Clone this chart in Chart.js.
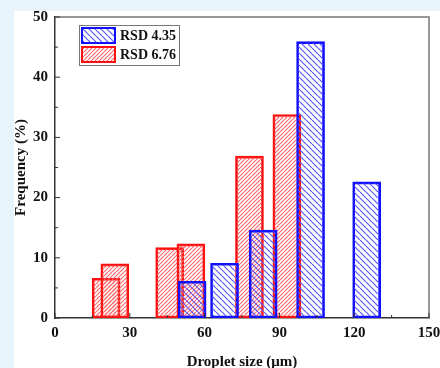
<!DOCTYPE html>
<html>
<head>
<meta charset="utf-8">
<script src="https://cdn.jsdelivr.net/npm/chart.js@4/dist/chart.umd.min.js"></script>
<style>
  html, body { margin: 0; padding: 0; background: #e8f4fc; }
  #wrap { width: 440px; height: 368px; position: relative; }
</style>
</head>
<body>
<div id="wrap"><canvas id="chart" width="440" height="368"></canvas></div>
<script>
// droplet size bins (bar centres, um) and frequencies (%)
var rsd435Sizes = [55, 68, 83.5, 102.5, 125];
var rsd435Freq  = [6.1, 9.1, 14.6, 45.9, 22.6];
var rsd676Sizes = [20.5, 24, 46, 54.5, 78, 93];
var rsd676Freq  = [6.6, 9.0, 11.7, 12.3, 26.9, 33.8];
var xTicks = [0, 30, 60, 90, 120, 150];
var yTicks = [0, 10, 20, 30, 40, 50];
var seriesNames = ['RSD 4.35', 'RSD 6.76'];

var FONT = '"Liberation Serif", "Times New Roman", serif';

function makeHatch(color, size, back) {
  var c = document.createElement('canvas');
  c.width = size; c.height = size;
  var g = c.getContext('2d');
  g.strokeStyle = color;
  g.lineWidth = 1.2;
  for (var k = -size; k <= size; k += size) {
    g.beginPath();
    if (back) { g.moveTo(k, 0); g.lineTo(k + size, size); }
    else { g.moveTo(k, size); g.lineTo(k + size, 0); }
    g.stroke();
  }
  return document.getElementById('chart').getContext('2d').createPattern(c, 'repeat');
}

var bluePat = makeHatch('#5a5aff', 6, true);
var redPat = makeHatch('#ff6a6a', 4, false);

function toPoints(xs, ys) {
  return xs.map(function (x, i) { return {x: x, y: ys[i]}; });
}

var backdrop = {
  id: 'backdrop',
  beforeDraw: function (chart) {
    var ctx = chart.ctx;
    ctx.save();
    ctx.fillStyle = '#e8f4fc';
    ctx.fillRect(0, 0, chart.width, chart.height);
    ctx.fillStyle = '#ffffff';
    ctx.fillRect(14, 11, chart.width - 14, chart.height - 11);
    ctx.restore();
  }
};

// inward ticks, frame and the boxed legend
var decorations = {
  id: 'decorations',
  afterDraw: function (chart) {
    var ctx = chart.ctx, a = chart.chartArea;
    var xs = chart.scales.x, ys = chart.scales.y;
    ctx.save();
    ctx.strokeStyle = '#777';
    ctx.lineWidth = 1.5;
    ctx.beginPath();
    ctx.moveTo(a.left, a.top); ctx.lineTo(a.right, a.top); ctx.lineTo(a.right, a.bottom);
    ctx.stroke();

    ctx.strokeStyle = '#333';
    ctx.lineWidth = 1;
    ctx.beginPath();
    for (var v = 0; v <= 150; v += 15) {
      var px = xs.getPixelForValue(v);
      var len = (v % 30 === 0) ? 5 : 3;
      ctx.moveTo(px, a.bottom); ctx.lineTo(px, a.bottom - len);
    }
    for (var w = 0; w <= 50; w += 5) {
      var py = ys.getPixelForValue(w);
      var l2 = (w % 10 === 0) ? 5 : 3;
      ctx.moveTo(a.left, py); ctx.lineTo(a.left + l2, py);
    }
    ctx.stroke();

    // legend
    var lx = 79, ly = 25;
    ctx.fillStyle = '#ffffff';
    ctx.fillRect(lx, ly, 100, 40);
    ctx.strokeStyle = '#777';
    ctx.lineWidth = 1;
    ctx.strokeRect(lx + 0.5, ly + 0.5, 100, 40);
    var sets = chart.data.datasets;
    for (var i = 0; i < sets.length; i++) {
      var sy = ly + 2 + i * 19;
      ctx.fillStyle = sets[i].backgroundColor;
      ctx.fillRect(lx + 2, sy, 35, 17);
      ctx.strokeStyle = sets[i].borderColor;
      ctx.lineWidth = 2;
      ctx.strokeRect(lx + 3, sy + 1, 33, 15);
      ctx.fillStyle = '#111';
      ctx.font = 'bold 14px ' + FONT;
      ctx.textBaseline = 'middle';
      ctx.textAlign = 'left';
      ctx.fillText(sets[i].label, lx + 41, sy + 9);
    }
    ctx.restore();
  }
};

new Chart(document.getElementById('chart'), {
  type: 'bar',
  data: {
    datasets: [{
      label: seriesNames[0],
      data: toPoints(rsd435Sizes, rsd435Freq),
      backgroundColor: bluePat,
      borderColor: '#1010ff',
      borderWidth: 2,
      borderSkipped: false
    }, {
      label: seriesNames[1],
      data: toPoints(rsd676Sizes, rsd676Freq),
      backgroundColor: redPat,
      borderColor: '#ff1010',
      borderWidth: 2,
      borderSkipped: false
    }]
  },
  options: {
    responsive: false,
    animation: false,
    events: [],
    datasets: { bar: { grouped: false, barThickness: 28 } },
    layout: { padding: { left: 0, top: 17, right: 11, bottom: 0 } },
    plugins: { legend: { display: false }, tooltip: { enabled: false } },
    scales: {
      x: {
        type: 'linear',
        min: 0, max: 150,
        offset: false,
        afterBuildTicks: function (s) { s.ticks = xTicks.map(function (v) { return {value: v}; }); },
        afterFit: function (s) { s.height = 50; s.paddingLeft = 0; s.paddingRight = 0; },
        grid: { display: false, drawTicks: false },
        border: { display: true, color: '#333', width: 1.5 },
        ticks: { color: '#111', padding: 6, maxRotation: 0, font: { family: FONT, size: 15, weight: 'bold' } },
        title: { display: true, text: 'Droplet size (μm)', color: '#111', padding: { top: 0, bottom: 0 },
                 font: { family: FONT, size: 15, weight: 'bold', lineHeight: 0.8 } }
      },
      y: {
        min: 0, max: 50,
        afterBuildTicks: function (s) { s.ticks = yTicks.map(function (v) { return {value: v}; }); },
        afterFit: function (s) { s.width = 55; s.paddingTop = 0; s.paddingBottom = 0; },
        grid: { display: false, drawTicks: false },
        border: { display: true, color: '#333', width: 1.5 },
        ticks: { color: '#111', padding: 7, font: { family: FONT, size: 15, weight: 'bold' } },
        title: { display: true, text: 'Frequency (%)', color: '#111', padding: { top: 12, bottom: 0 },
                 font: { family: FONT, size: 15, weight: 'bold' } }
      }
    }
  },
  plugins: [backdrop, decorations]
});
</script>
</body>
</html>
